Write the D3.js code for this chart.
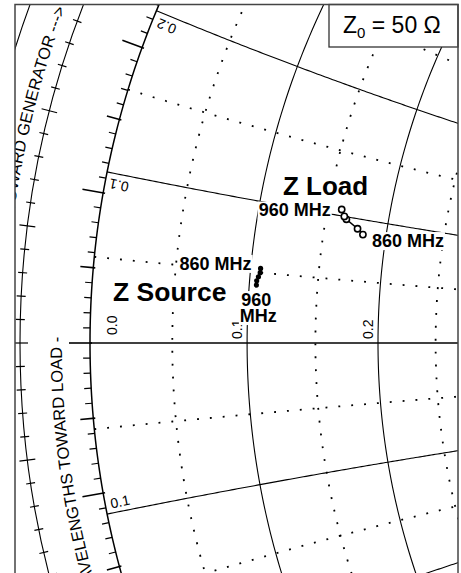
<!DOCTYPE html>
<html><head><meta charset="utf-8">
<script src="https://cdn.jsdelivr.net/npm/d3@7"></script>
<style>body{margin:0;background:#fff}svg{display:block}</style>
</head><body>
<svg id="chart" width="461" height="573"></svg>
<script>
// ---- data ----
const freqsMHz = [860, 885, 910, 935, 960];
const sourceR = [0.107, 0.107, 0.106, 0.105, 0.105];
const sourceX = [0.053, 0.050, 0.047, 0.044, 0.041];
const loadR = [0.181, 0.176, 0.166, 0.164, 0.161];
const loadX = [0.088, 0.092, 0.098, 0.100, 0.105];
const rMajor = [0.1, 0.2, 0.3];
const rMinor = [0.05, 0.15, 0.25];
const xMajor = [0.1, 0.2, 0.3, -0.1, -0.2, -0.3];
const xMinor = [0.05, 0.15, 0.25, -0.05, -0.15, -0.25];
const rAxisLabels = [0.0, 0.1, 0.2];
const xArcLabels = [0.1, 0.2, -0.1];
const z0Ohms = 50;

// ---- layout ----
const FONT = "'Liberation Sans', Arial, Helvetica, sans-serif";
const svg = d3.select("#chart");
const gx = d3.scaleLinear().domain([-1, 1]).range([90, 1818]);
const gy = d3.scaleLinear().domain([-1, 1]).range([343 + 864, 343 - 864]);
const R = gx(1) - gx(0);
const CX = gx(0), CY = gy(0);
const frame = {x: 15, y: 4.5, w: 443, h: 600};

const defs = svg.append("defs");
defs.append("clipPath").attr("id", "clip").append("rect")
  .attr("x", frame.x).attr("y", frame.y).attr("width", frame.w).attr("height", frame.h);

const g = svg.append("g").attr("clip-path", "url(#clip)");

function gamma(r, x) {
  const den = (r + 1) * (r + 1) + x * x;
  return [(r * r + x * x - 1) / den, (2 * x) / den];
}
const line = d3.line().x(d => gx(d[0])).y(d => gy(d[1]));

function rCircle(r) {
  const c = r / (1 + r), rad = 1 / (1 + r);
  return d3.range(0, 721).map(i => {
    const t = i / 720 * 2 * Math.PI;
    return [c + rad * Math.cos(t), rad * Math.sin(t)];
  });
}
function xArc(x) {
  return d3.range(0, 1500).map(i => gamma(i * 0.002, x));
}

const solid = {stroke: "#000", "stroke-width": 1.1, fill: "none"};
const dotted = {stroke: "#000", "stroke-width": 1.8, fill: "none", "stroke-dasharray": "1.9,11"};
function applyAttrs(sel, a) { Object.entries(a).forEach(([k, v]) => sel.attr(k, v)); return sel; }

// minor grid (dotted)
rMinor.forEach(r => applyAttrs(g.append("path").attr("d", line(rCircle(r))), dotted));
xMinor.forEach(x => applyAttrs(g.append("path").attr("d", line(xArc(x))), dotted));
// major grid (solid)
rMajor.forEach(r => applyAttrs(g.append("path").attr("d", line(rCircle(r))), solid));
xMajor.forEach(x => applyAttrs(g.append("path").attr("d", line(xArc(x))), solid));
// outer circle r = 0
applyAttrs(g.append("path").attr("d", line(rCircle(0))), {...solid, "stroke-width": 1.5});
// real axis
applyAttrs(g.append("line").attr("x1", gx(-1)).attr("x2", gx(1)).attr("y1", gy(0)).attr("y2", gy(0)), {...solid, "stroke-width": 1.4});

// ring of angle ticks on r = 0 circle (1 deg)
d3.range(-60, 61).forEach(deg => {
  const th = Math.PI - deg * Math.PI / 180;
  const out = deg % 10 === 0 ? 21 : (deg % 5 === 0 ? 13 : 7);
  const inn = deg % 5 === 0 ? 2 : 0;
  const a = 1 - inn / R, b = 1 + out / R;
  g.append("line")
    .attr("x1", gx(a * Math.cos(th))).attr("y1", gy(a * Math.sin(th)))
    .attr("x2", gx(b * Math.cos(th))).attr("y2", gy(b * Math.sin(th)))
    .attr("stroke", "#000").attr("stroke-width", deg % 5 === 0 ? 1.6 : 1.2);
});

// wavelength ring
const rhoB = 934 / 864, rhoC = 984 / 864;
[rhoB, rhoC].forEach(rho => {
  g.append("circle").attr("cx", CX).attr("cy", CY).attr("r", rho * R)
    .attr("fill", "none").attr("stroke", "#000").attr("stroke-width", 1.1);
});
d3.range(-45, 46).forEach(k => {
  const th = Math.PI - k * 1.44 * Math.PI / 180;
  const L = k % 5 === 0 ? 8 : 4.5;
  const a = rhoB - L / R, b = rhoB + L / R;
  g.append("line")
    .attr("x1", gx(a * Math.cos(th))).attr("y1", gy(a * Math.sin(th)))
    .attr("x2", gx(b * Math.cos(th))).attr("y2", gy(b * Math.sin(th)))
    .attr("stroke", "#000").attr("stroke-width", 1.2);
});

// curved ring texts
function ringPath(id, rpx) {
  const p = d3.path();
  const a0 = Math.PI - Math.PI / 4, a1 = Math.PI + Math.PI / 4;
  p.moveTo(CX + rpx * Math.cos(a0), CY + rpx * Math.sin(a0));
  p.arc(CX, CY, rpx, a0, a1, false);
  defs.append("path").attr("id", id).attr("d", p.toString());
}
ringPath("genPath", 949);
ringPath("loadPath", 892);
g.append("text").attr("font-family", FONT).attr("font-size", 16.5).attr("fill", "#000")
  .append("textPath").attr("href", "#genPath")
  .attr("startOffset", (45.1 * Math.PI / 180) * 949)
  .text("WAVELENGTHS TOWARD GENERATOR --->");
g.append("text").attr("font-family", FONT).attr("font-size", 16.5).attr("fill", "#000")
  .attr("text-anchor", "end")
  .append("textPath").attr("href", "#loadPath")
  .attr("startOffset", (45.4 * Math.PI / 180) * 892)
  .text("<--- WAVELENGTHS TOWARD LOAD -");

// resistance labels along real axis
rAxisLabels.forEach(r => {
  const px = r === 0 ? gx(-1) + 27 : gx(gamma(r, 0)[0]) - 5;
  const yEnd = r === 0 ? gy(0) - 8 : gy(0) - 4;
  g.append("text").attr("transform", `translate(${px},${yEnd}) rotate(-90)`)
    .attr("font-family", FONT).attr("font-size", 14).attr("text-anchor", "start")
    .text(d3.format(".1f")(r));
});

// reactance labels near the outer circle
xArcLabels.forEach(x => {
  const p0 = gamma(0.002, x), p1 = gamma(0.01, x);
  const ang = Math.atan2(gy(p1[1]) - gy(p0[1]), gx(p1[0]) - gx(p0[0])) * 180 / Math.PI;
  const X = gx(p0[0]), Y = gy(p0[1]);
  if (x > 0) {
    g.append("text").attr("transform", `translate(${X},${Y + 6}) rotate(${ang + 180})`)
      .attr("font-family", FONT).attr("font-size", 14).attr("text-anchor", "end")
      .text(d3.format(".1f")(Math.abs(x)));
  } else {
    g.append("text").attr("transform", `translate(${X + 1},${Y - 5}) rotate(${ang})`)
      .attr("font-family", FONT).attr("font-size", 14).attr("text-anchor", "start")
      .text(d3.format(".1f")(Math.abs(x)));
  }
});

// ---- labels with white background ----
function boxedText(parent, x, y, lines, size, anchor) {
  const gg = parent.append("g");
  const t = gg.append("text").attr("x", x).attr("y", y).attr("font-family", FONT)
    .attr("font-size", size).attr("font-weight", "bold")
    .attr("text-anchor", anchor || "start");
  [].concat(lines).forEach((s, i) => {
    t.append("tspan").attr("x", x + (i ? 2 : 0)).attr("dy", i ? 16 : 0).text(s);
  });
  const bb = t.node().getBBox();
  gg.insert("rect", "text").attr("x", bb.x - 1).attr("y", bb.y + 1)
    .attr("width", bb.width + 2).attr("height", bb.height - 2).attr("fill", "#fff");
  return gg;
}

// ---- data series ----
const src = freqsMHz.map((f, i) => ({f, g: gamma(sourceR[i], sourceX[i])}));
const lod = freqsMHz.map((f, i) => ({f, g: gamma(loadR[i], loadX[i])}));
const dline = d3.line().x(d => gx(d.g[0])).y(d => gy(d.g[1]));

const labels = svg.append("g");
const s0 = src[0], sN = src[src.length - 1];
const l0 = lod[0], lN = lod[lod.length - 1];
boxedText(labels, 283, 195, "Z Load", 26);
boxedText(labels, 113, 301, "Z Source", 26.5);
boxedText(labels, gx(lN.g[0]) - 11, gy(lN.g[1]) + 7, lN.f + " MHz", 18, "end");
boxedText(labels, gx(l0.g[0]) + 9, gy(l0.g[1]) + 12.5, l0.f + " MHz", 18, "start");
boxedText(labels, gx(s0.g[0]) - 9, gy(s0.g[1]) + 1.5, s0.f + " MHz", 18, "end");
boxedText(labels, gx(sN.g[0]), gy(sN.g[1]) + 21, [String(sN.f), "MHz"], 18, "middle");

const series = svg.append("g");
series.append("path").attr("d", dline(src)).attr("fill", "none").attr("stroke", "#000").attr("stroke-width", 1.6);
series.selectAll("circle.s").data(src).join("circle").attr("class", "s")
  .attr("cx", d => gx(d.g[0])).attr("cy", d => gy(d.g[1])).attr("r", 2.6).attr("fill", "#000");
series.append("path").attr("d", dline(lod)).attr("fill", "none").attr("stroke", "#000").attr("stroke-width", 1.6);
series.selectAll("circle.l").data(lod).join("circle").attr("class", "l")
  .attr("cx", d => gx(d.g[0])).attr("cy", d => gy(d.g[1])).attr("r", 3.1)
  .attr("fill", "#fff").attr("stroke", "#000").attr("stroke-width", 1.6);

// ---- legend box ----
svg.append("rect").attr("x", 329).attr("y", frame.y).attr("width", 458 - 329).attr("height", 47 - frame.y)
  .attr("fill", "#fff").attr("stroke", "#333").attr("stroke-width", 1.3);
const lt = svg.append("text").attr("x", 343).attr("y", 33).attr("font-family", FONT).attr("font-size", 23);
lt.append("tspan").text("Z");
lt.append("tspan").attr("font-size", 15).attr("dy", 5).text("0");
lt.append("tspan").attr("dy", -5).text(" = " + z0Ohms + " \u03A9");

// ---- frame ----
svg.append("rect").attr("x", frame.x).attr("y", frame.y).attr("width", frame.w).attr("height", frame.h)
  .attr("fill", "none").attr("stroke", "#444").attr("stroke-width", 1.5);
</script>
</body></html>
